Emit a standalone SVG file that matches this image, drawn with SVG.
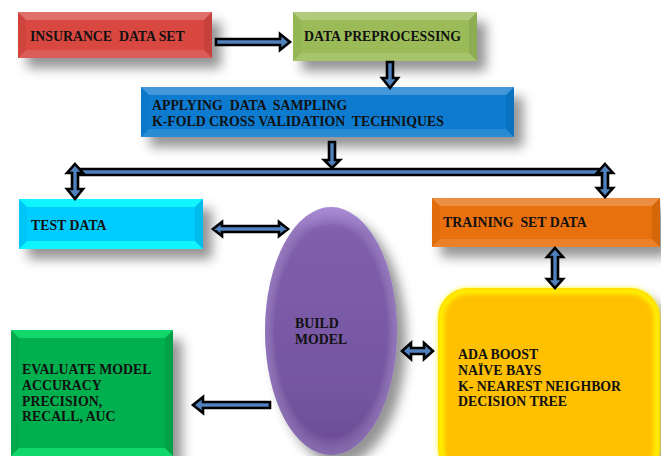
<svg xmlns="http://www.w3.org/2000/svg" width="661" height="456" viewBox="0 0 661 456">
  <defs>
    <filter id="shadow" x="-20%" y="-30%" width="150%" height="180%">
      <feDropShadow dx="9" dy="10" stdDeviation="6" flood-color="#000" flood-opacity="0.42"/>
    </filter>
    <filter id="glow" x="-10%" y="-10%" width="120%" height="120%">
      <feGaussianBlur stdDeviation="2.5"/>
    </filter>
    <linearGradient id="gEllipse" x1="0" y1="0" x2="0" y2="1">
      <stop offset="0" stop-color="#9a7acb"/>
      <stop offset="0.1" stop-color="#7f5eac"/>
      <stop offset="0.7" stop-color="#7657a2"/>
      <stop offset="1" stop-color="#6a4b94"/>
    </linearGradient>
    <radialGradient id="gEllipseEdge" cx="0.5" cy="0.5" r="0.5">
      <stop offset="0.85" stop-color="#fff" stop-opacity="0"/>
      <stop offset="1" stop-color="#c9b3ee" stop-opacity="0.3"/>
    </radialGradient>
  </defs>
  <style>
    .lbl { font-family: "Liberation Serif", "Times New Roman", serif; font-weight: bold; font-size: 13.8px; fill: #111; }
    .bt { fill: #fff; fill-opacity: 0.22; }
    .bb { fill: #fff; fill-opacity: 0.12; }
    .bl { fill: #000; fill-opacity: 0.03; }
    .br { fill: #000; fill-opacity: 0.08; }
    .arrow { fill: #4f81bd; stroke: #000; stroke-width: 2.6; stroke-linejoin: miter; }
  </style>

  <!-- source data -->
  <g id="insurance-data-set">
    <rect x="18" y="12" width="194" height="46" fill="#d8463f" filter="url(#shadow)"/>
    <polygon class="bt" points="18,12 212,12 204,20 26,20"/>
    <polygon class="bb" points="18,58 212,58 204,50 26,50"/>
    <polygon class="bl" points="18,12 26,20 26,50 18,58"/>
    <polygon class="br" points="212,12 204,20 204,50 212,58"/>
    <text class="lbl" x="30" y="41" xml:space="preserve">INSURANCE  DATA SET</text>
  </g>

  <g id="data-preprocessing">
    <rect x="293" y="12" width="184" height="49" fill="#9bbb59" filter="url(#shadow)"/>
    <polygon class="bt" points="293,12 477,12 469,20 301,20"/>
    <polygon class="bb" points="293,61 477,61 469,53 301,53"/>
    <polygon class="bl" points="293,12 301,20 301,53 293,61"/>
    <polygon class="br" points="477,12 469,20 469,53 477,61"/>
    <text class="lbl" x="304" y="41">DATA PREPROCESSING</text>
  </g>

  <g id="sampling-validation">
    <rect x="141" y="87" width="373" height="50" fill="#0b7bd0" filter="url(#shadow)"/>
    <polygon class="bt" points="141,87 514,87 506,95 149,95"/>
    <polygon class="bb" points="141,137 514,137 506,129 149,129"/>
    <polygon class="bl" points="141,87 149,95 149,129 141,137"/>
    <polygon class="br" points="514,87 506,95 506,129 514,137"/>
    <text class="lbl" x="152" y="110" xml:space="preserve">APPLYING  DATA  SAMPLING</text>
    <text class="lbl" x="152" y="126" xml:space="preserve">K-FOLD CROSS VALIDATION  TECHNIQUES</text>
  </g>

  <g id="test-data">
    <rect x="19" y="199" width="184" height="50" fill="#00ccff" filter="url(#shadow)"/>
    <polygon points="19,199 203,199 195,207 27,207" fill="#10f4ff"/>
    <polygon points="19,249 203,249 195,241 27,241" fill="#10f4ff"/>
    <polygon class="bl" points="19,199 27,207 27,241 19,249"/>
    <polygon class="br" points="203,199 195,207 195,241 203,249"/>
    <text class="lbl" x="31" y="230">TEST DATA</text>
  </g>

  <g id="training-set-data">
    <rect x="432" y="198" width="228" height="49" fill="#e8700c" filter="url(#shadow)"/>
    <polygon class="bt" points="432,198 660,198 652,206 440,206"/>
    <polygon class="bb" points="432,247 660,247 652,239 440,239"/>
    <polygon class="bl" points="432,198 440,206 440,239 432,247"/>
    <polygon class="br" points="660,198 652,206 652,239 660,247"/>
    <text class="lbl" x="443" y="227" xml:space="preserve">TRAINING  SET DATA</text>
  </g>

  <g id="build-model">
    <ellipse cx="331" cy="331" rx="66" ry="124" fill="url(#gEllipse)" filter="url(#shadow)"/>
    <ellipse cx="331" cy="331" rx="66" ry="124" fill="url(#gEllipseEdge)"/>
    <text class="lbl" x="295" y="328">BUILD</text>
    <text class="lbl" x="295" y="344">MODEL</text>
  </g>

  <g id="classifiers">
    <rect x="438" y="288" width="222" height="190" rx="30" fill="#ffc000" filter="url(#shadow)"/>
    <rect x="441" y="291" width="216" height="184" rx="27" fill="none" stroke="#ffff00" stroke-width="5" filter="url(#glow)"/>
    <text class="lbl" x="458" y="359">ADA BOOST</text>
    <text class="lbl" x="458" y="375">NAÏVE BAYS</text>
    <text class="lbl" x="458" y="391">K- NEAREST NEIGHBOR</text>
    <text class="lbl" x="458" y="406">DECISION TREE</text>
  </g>

  <g id="evaluate-model">
    <rect x="11" y="330" width="162" height="126" fill="#00b050" filter="url(#shadow)"/>
    <polygon points="11,330 173,330 165,338 19,338" fill="#12d86c"/>
    <polygon points="11,456 173,456 165,448 19,448" fill="#12d86c"/>
    <polygon class="bl" points="11,330 19,338 19,448 11,456"/>
    <polygon class="br" points="173,330 165,338 165,448 173,456"/>
    <text class="lbl" x="22" y="374">EVALUATE MODEL</text>
    <text class="lbl" x="22" y="390">ACCURACY</text>
    <text class="lbl" x="22" y="406">PRECISION,</text>
    <text class="lbl" x="22" y="421">RECALL, AUC</text>
  </g>

  <!-- block arrows -->
  <g id="connectors">
    <path class="arrow" d="M216,39 H280 V34 L290,42 L280,50 V45 H216 Z"/>
    <path class="arrow" d="M387,62 V78 H382 L390,88 L398,78 H393 V62 Z"/>
    <path class="arrow" d="M329,142 V160 H324 L332,168 L340,160 H335 V142 Z"/>
    <path class="arrow" d="M75,169 H605 V175 H75 Z"/>
    <path class="arrow" d="M75,164 L83,173 H78 V189 H83 L75,199 L67,189 H72 V173 H67 Z"/>
    <path class="arrow" d="M605,164 L613,173 H608 V188 H613 L605,197 L597,188 H602 V173 H597 Z"/>
    <path class="arrow" d="M213,229 L222,222 V226 H279 V222 L288,229 L279,236 V232 H222 V236 Z"/>
    <path class="arrow" d="M555,248 L563,257 H558 V279 H563 L555,288 L547,279 H552 V257 H547 Z"/>
    <path class="arrow" d="M402,351 L411,343 V348 H424 V343 L433,351 L424,359 V354 H411 V359 Z"/>
    <path class="arrow" d="M270,402 H203 V397 L193,405 L203,413 V408 H270 Z"/>
  </g>
</svg>
